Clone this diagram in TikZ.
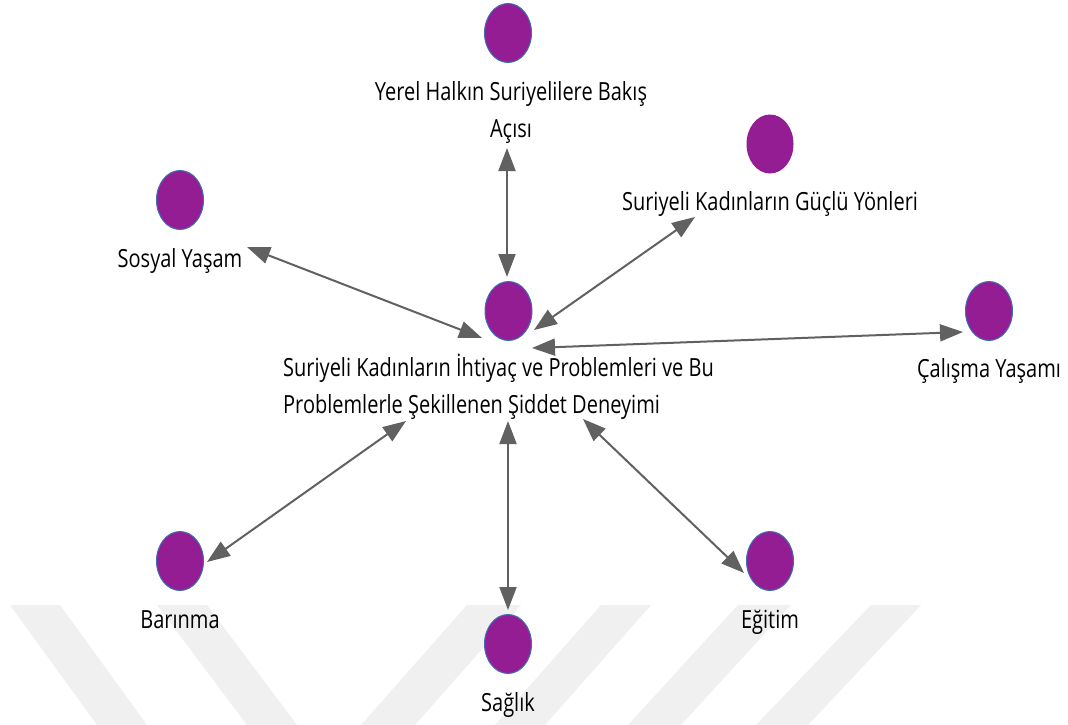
\documentclass[tikz,border=0pt]{standalone}
\usepackage{fontspec}
\setmainfont{Open Sans}[FakeStretch=0.8]
\usetikzlibrary{arrows.meta,shapes.geometric}
\definecolor{nodefill}{HTML}{941D94}
\definecolor{nodeline}{HTML}{3D6FB6}
\definecolor{arrowgray}{HTML}{616161}
\definecolor{wmgray}{HTML}{F0F0F0}
\begin{document}
\begin{tikzpicture}[x=1pt,y=-1pt,
  dot/.style={ellipse,fill=nodefill,draw=nodeline,line width=1pt,minimum width=47pt,minimum height=59pt,inner sep=0pt},
  lbl/.style={font=\fontsize{25}{36.5}\selectfont,inner sep=0pt,text=black},
  link/.style={draw=arrowgray,line width=2pt,{Triangle[length=23pt,width=17pt]}-{Triangle[length=23pt,width=17pt]}},
  wm/.style={fill=wmgray,draw=none}]
\fill[white] (0,0) rectangle (1068,725);
\useasboundingbox (0,0) rectangle (1068,725);
% watermark stripes
\fill[wm] (10,605) -- (60,605) -- (147,725) -- (97,725) -- cycle;
\fill[wm] (157,605) -- (207,605) -- (297,725) -- (247,725) -- cycle;
\fill[wm] (467,605) -- (521,605) -- (415,725) -- (361,725) -- cycle;
\fill[wm] (601,605) -- (651,605) -- (545,725) -- (495,725) -- cycle;
\fill[wm] (738,605) -- (791,605) -- (681,725) -- (628,725) -- cycle;
\fill[wm] (871,605) -- (921,605) -- (808,725) -- (756,725) -- cycle;
% nodes
\node[dot] (eY) at (508,33) {};
\node[dot,draw=none] (eG) at (770,144) {};
\node[dot] (eS) at (180,200) {};
\node[dot] (eC) at (508.5,311) {};
\node[dot] (eW) at (989,311) {};
\node[dot] (eB) at (180,561) {};
\node[dot] (eE) at (770,561) {};
\node[dot] (eH) at (508,644) {};
% labels
\node[lbl,align=center,anchor=base] (tY) at (511,137) {Yerel Halkın Suriyelilere Bakış\\Açısı};
\node[lbl,anchor=base] (tG) at (770,210) {Suriyeli Kadınların Güçlü Yönleri};
\node[lbl,anchor=base] (tS) at (180,267) {Sosyal Yaşam};
\node[lbl,align=left,anchor=base west] (tC) at (283,413) {Suriyeli Kadınların İhtiyaç ve Problemleri ve Bu\\Problemlerle Şekillenen Şiddet Deneyimi};
\node[lbl,anchor=base] (tW) at (989,377) {Çalışma Yaşamı};
\node[lbl,anchor=base] (tB) at (180,628) {Barınma};
\node[lbl,anchor=base] (tE) at (770,628) {Eğitim};
\node[lbl,anchor=base] (tH) at (508,711) {Sağlık};
% connectors
\draw[link] ([shift={(-1,115)}]eY.center) -- ([shift={(-1.5,-34)}]eC.center);
\draw[link] ([shift={(-75,73)}]eG.center) -- ([shift={(25.5,19)}]eC.center);
\draw[link] ([shift={(67,47)}]eS.center) -- ([shift={(-26.5,27)}]eC.center);
\draw[link] ([shift={(-26,21)}]eW.center) -- ([shift={(23.5,37)}]eC.center);
\draw[link] ([shift={(27,1)}]eB.center) -- ([shift={(-102.5,110)}]eC.center);
\draw[link] ([shift={(0,-34)}]eH.center) -- ([shift={(-0.5,110)}]eC.center);
\draw[link] ([shift={(-26,12)}]eE.center) -- ([shift={(74.5,108)}]eC.center);
\end{tikzpicture}
\end{document}
